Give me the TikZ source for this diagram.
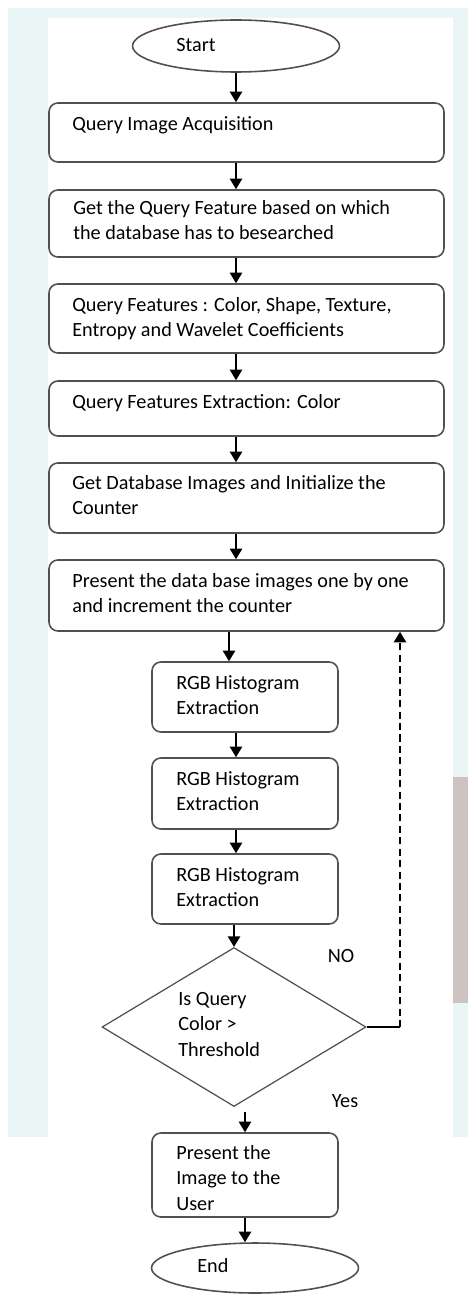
\documentclass[tikz,border=0pt]{standalone}
\usepackage{fontspec}
\setmainfont{Carlito}
\usetikzlibrary{arrows.meta, positioning, shapes.geometric, calc}
\definecolor{framegray}{RGB}{80,80,80}
\definecolor{paletint}{RGB}{234,245,245}
\definecolor{scangray}{RGB}{205,195,192}

\begin{document}
\begin{tikzpicture}[x=0.02cm, y=-0.02cm,
    procbox/.style={draw=framegray, line width=0.9pt, rounded corners=5pt,
                    fill=white, inner sep=0pt},
    termnode/.style={ellipse, draw=framegray, line width=0.9pt,
                     fill=white, inner sep=0pt},
    testnode/.style={diamond, draw=framegray, line width=0.7pt,
                     fill=white, inner sep=0pt},
    boxtext/.style={anchor=north west, align=left, inner sep=0pt,
                    font=\fontsize{11.5}{14.5}\selectfont},
    flow/.style={line width=0.9pt, -{Triangle[length=6pt, width=7pt]}}]

    % page and scanned backdrop
    \useasboundingbox (0,0) rectangle (468,1294);
    \fill[white] (0,0) rectangle (468,1294);
    \fill[paletint] (8,8) rectangle (468,1137);
    \fill[white] (48,18) rectangle (453,1137);
    \fill[scangray] (453,777) rectangle (468,1003);

    % main column
    \node[termnode, minimum width=4.14cm, minimum height=1.04cm] (start) at (236,46) {};
    \node[boxtext, anchor=west] (starttxt) at (176,45) {Start};

    \node[procbox, minimum width=7.9cm, minimum height=1.18cm] (b1) at (246.5,132.5) {};
    \node[boxtext] (t1) at (72,116) {Query Image Acquisition};

    \node[procbox, minimum width=7.9cm, minimum height=1.34cm] (b2) at (246.5,223.5) {};
    \node[boxtext] (t2) at (73,200)
      {Get the Query Feature based on which\\the database has to besearched};

    \node[procbox, minimum width=7.9cm, minimum height=1.38cm] (b3) at (246.5,318.5) {};
    \node[boxtext] (t3) at (72,297)
      {Query Features : Color, Shape, Texture,\\Entropy and Wavelet Coefficients};

    \node[procbox, minimum width=7.9cm, minimum height=1.10cm] (b4) at (246.5,408.5) {};
    \node[boxtext] (t4) at (72,394) {Query Features Extraction: Color};

    \node[procbox, minimum width=7.9cm, minimum height=1.40cm] (b5) at (246.5,498) {};
    \node[boxtext] (t5) at (72,475)
      {Get Database Images and Initialize the\\Counter};

    \node[procbox, minimum width=7.9cm, minimum height=1.42cm] (b6) at (246.5,595.5) {};
    \node[boxtext] (t6) at (72,573)
      {Present the data base images one by one\\and increment the counter};

    % narrow column
    \node[procbox, minimum width=3.72cm, minimum height=1.40cm] (r1) at (245,697) {};
    \node[boxtext] (u1) at (176,675) {RGB Histogram\\Extraction};

    \node[procbox, minimum width=3.72cm, minimum height=1.42cm] (r2) at (245,793.5) {};
    \node[boxtext] (u2) at (176,771) {RGB Histogram\\Extraction};

    \node[procbox, minimum width=3.72cm, minimum height=1.40cm] (r3) at (245,889) {};
    \node[boxtext] (u3) at (176,867) {RGB Histogram\\Extraction};

    \node[testnode, minimum width=5.28cm, minimum height=3.18cm] (d) at (234,1027) {};
    \node[boxtext] (dt) at (178,992) {Is Query\\Color >\\Threshold};

    \node[procbox, minimum width=3.72cm, minimum height=1.68cm] (p) at (245,1175) {};
    \node[boxtext] (pt) at (176,1145) {Present the\\Image to the\\User};

    \node[termnode, minimum width=4.14cm, minimum height=1.0cm] (end) at (255,1268) {};
    \node[boxtext, anchor=west] (endtxt) at (197,1266) {End};

    \node[boxtext, anchor=center] (nolbl) at (341,956) {NO};
    \node[boxtext, anchor=center] (yeslbl) at (345,1101) {Yes};

    % connectors
    \draw[flow] (start) -- (b1.north -| start);
    \draw[flow] (b1.south -| start) -- (b2.north -| start);
    \draw[flow] (b2.south -| start) -- (b3.north -| start);
    \draw[flow] (b3.south -| start) -- (b4.north -| start);
    \draw[flow] (b4.south -| start) -- (b5.north -| start);
    \draw[flow] (b5.south -| start) -- (b6.north -| start);
    \draw[flow] ($(b6.south -| r1)+(-16,0)$) -- ($(r1.north)+(-16,0)$);
    \draw[flow] (r1.south -| start) -- (r2.north -| start);
    \draw[flow] (r2.south -| start) -- (r3.north -| start);
    \draw[flow] (r3.south -| d) -- (d);
    \draw[flow] ($(d.south -| p)+(0,5)$) -- (p.north);
    \draw[flow] (p) -- (end.north -| p);

    % loop back for the next image
    \coordinate (loop) at (400,1027);
    \draw[line width=0.6pt] (d.east) -- (loop);
    \draw[flow, dash pattern=on 4pt off 2.5pt] (loop) -- (loop |- b6.south);
\end{tikzpicture}
\end{document}
